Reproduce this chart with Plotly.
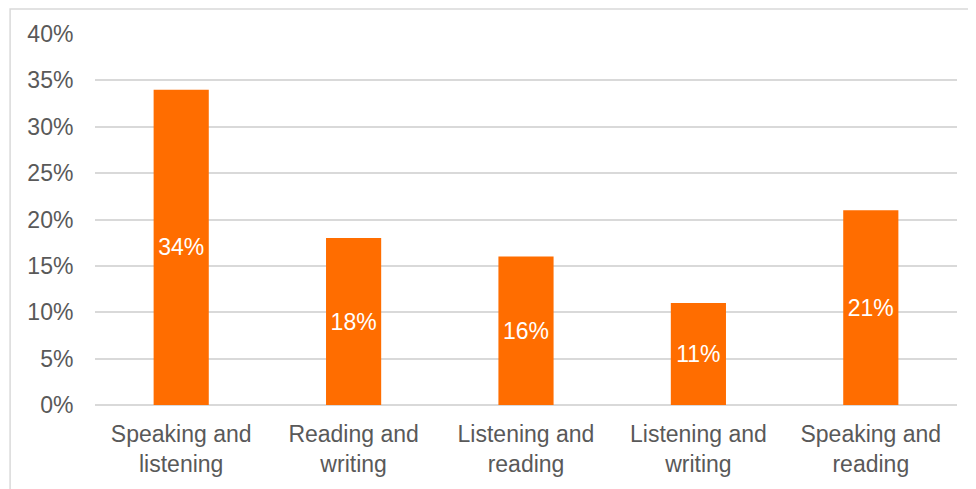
import plotly.graph_objects as go

categories = ['Speaking and<br>listening', 'Reading and<br>writing', 'Listening and<br>reading',
              'Listening and<br>writing', 'Speaking and<br>reading']
shares = [0.34, 0.18, 0.16, 0.11, 0.21]
y_ticks = [0, 0.05, 0.10, 0.15, 0.20, 0.25, 0.30, 0.35, 0.40]

fig = go.Figure(go.Bar(
    x=categories, y=shares,
    marker=dict(color='#FF6D00', line=dict(width=0)),
    text=[f'{v:.0%}' for v in shares],
    textposition='inside', insidetextanchor='middle',
    textfont=dict(color='white', size=23),
    cliponaxis=False,
))

# light grey chart frame (only left and top edges fall inside the picture)
fig.add_shape(type='rect', xref='paper', yref='paper',
              x0=-0.0985, x1=1.2, y0=-0.4, y1=1.0675,
              line=dict(color='#d9d9d9', width=1.5), layer='below')

fig.update_layout(
    width=976, height=489,
    margin=dict(l=87, r=27, t=26, b=92),
    paper_bgcolor='white', plot_bgcolor='white',
    font=dict(family='Liberation Sans, Arial, sans-serif', size=23, color='#595959'),
    bargap=0.68, showlegend=False,
    xaxis=dict(showgrid=False, showline=False, ticks='outside', ticklen=8,
               tickcolor='rgba(0,0,0,0)', tickfont=dict(size=23)),
    yaxis=dict(range=[0, 0.40], tickvals=y_ticks, tickformat='.0%',
               showgrid=True, gridcolor='#d9d9d9', gridwidth=1.5,
               zeroline=True, zerolinecolor='#d9d9d9', zerolinewidth=1.5,
               ticks='outside', ticklen=16, tickcolor='rgba(0,0,0,0)',
               tickfont=dict(size=23)),
)

fig.write_html("out.html")
